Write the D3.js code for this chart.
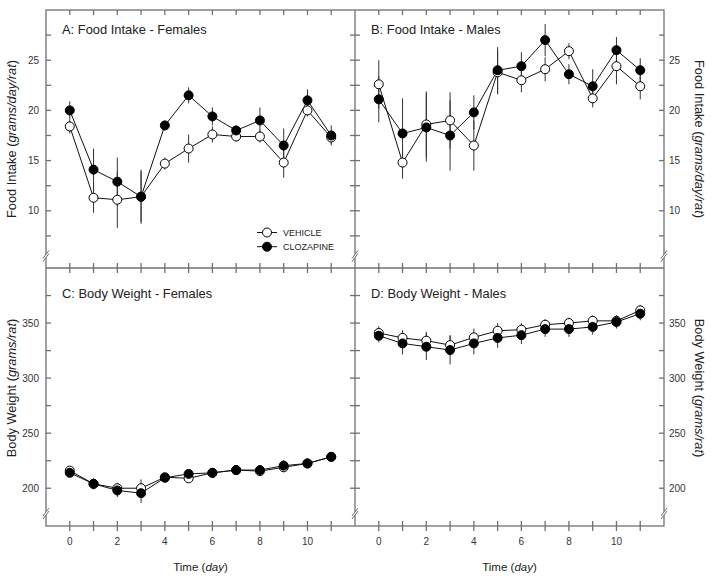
<!DOCTYPE html>
<html>
<head>
<meta charset="utf-8">
<script src="https://cdn.jsdelivr.net/npm/d3@7"></script>
<style>
  html, body { margin: 0; padding: 0; background: #fff; }
  svg { display: block; font-family: "Liberation Sans", Arial, sans-serif; }
</style>
</head>
<body>
<svg id="chart" width="712" height="581"></svg>
<script>
// ---------- DATA ----------
const days = [0, 1, 2, 3, 4, 5, 6, 7, 8, 9, 10, 11];
const xTickLabels = [0, 2, 4, 6, 8, 10];

const foodTicks = [10, 15, 20, 25];
const foodMinorTicks = [7.5, 12.5, 17.5, 22.5, 27.5];
const weightTicks = [200, 250, 300, 350];
const weightMinorTicks = [225, 275, 325, 375];

// A: Food Intake - Females
const foodFemVehicle     = [18.4, 11.3, 11.1, 11.4, 14.7, 16.2, 17.6, 17.4, 17.4, 14.8, 20.0, 17.3];
const foodFemVehicleErr  = [0.7, 1.5, 2.8, 2.7, 0.6, 1.4, 0.8, 0.5, 0.6, 1.5, 0.6, 0.6];
const foodFemClozapine   = [20.0, 14.1, 12.9, 11.4, 18.5, 21.5, 19.4, 18.0, 19.0, 16.5, 21.0, 17.5];
const foodFemClozErr     = [0.9, 2.1, 2.4, 2.5, 0.5, 0.8, 0.9, 0.5, 1.3, 1.7, 1.1, 1.0];

// B: Food Intake - Males
const foodMaleVehicle    = [22.6, 14.8, 18.6, 19.0, 16.5, 23.8, 23.0, 24.1, 25.9, 21.2, 24.4, 22.4];
const foodMaleVehicleErr = [2.4, 1.6, 3.3, 2.8, 2.5, 2.2, 1.2, 1.2, 0.8, 0.9, 1.8, 1.3];
const foodMaleClozapine  = [21.1, 17.7, 18.3, 17.5, 19.8, 24.0, 24.4, 27.0, 23.6, 22.4, 26.0, 24.0];
const foodMaleClozErr    = [2.3, 3.5, 3.4, 3.5, 1.7, 2.3, 1.4, 1.6, 1.0, 1.7, 1.3, 1.2];

// C: Body Weight - Females
const bwFemVehicle       = [216, 204, 200, 200, 210, 209, 214, 216.5, 215.5, 219, 222.5, 228.5];
const bwFemVehicleErr    = [2, 4, 5, 8, 3, 3, 3, 3, 3, 4, 3, 3];
const bwFemClozapine     = [214, 204, 198, 195.5, 209.5, 213, 214, 216.5, 216.5, 220.5, 222.5, 228.5];
const bwFemClozErr       = [2, 5, 6, 9, 3, 3, 3, 3, 3, 5, 3, 4];

// D: Body Weight - Males
const bwMaleVehicle      = [341, 336.5, 334, 330, 337, 343, 344, 348.5, 350, 352, 352, 361.5];
const bwMaleVehicleErr   = [6, 7, 8, 9, 8, 7, 6, 5, 5, 5, 5, 5];
const bwMaleClozapine    = [338.5, 331.5, 328.5, 325.5, 331.5, 336.5, 339, 344.5, 344.5, 346.5, 351, 358.5];
const bwMaleClozErr      = [6, 10, 12, 13, 10, 9, 8, 7, 7, 7, 6, 6];

const seriesNames = ["VEHICLE", "CLOZAPINE"];

// ---------- LAYOUT ----------
const svg = d3.select("#chart");
const L = 46, M = 355, R = 664, T = 10, MY = 268, B = 526;
const axisColor = "#707070";
const textColor = "#222";

const xLeft = d3.scaleLinear().domain([-1, 12]).range([L, M]);
const xRight = d3.scaleLinear().domain([-1, 12]).range([M, R]);
const yFood = d3.scaleLinear().domain([4.3, 30]).range([MY, T]);
const yWeight = d3.scaleLinear().domain([165.7, 400]).range([B, MY]);

const panels = [
  { title: "A: Food Intake - Females", x: xLeft, y: yFood, v: foodFemVehicle, ve: foodFemVehicleErr, c: foodFemClozapine, ce: foodFemClozErr },
  { title: "B: Food Intake - Males", x: xRight, y: yFood, v: foodMaleVehicle, ve: foodMaleVehicleErr, c: foodMaleClozapine, ce: foodMaleClozErr },
  { title: "C: Body Weight - Females", x: xLeft, y: yWeight, v: bwFemVehicle, ve: bwFemVehicleErr, c: bwFemClozapine, ce: bwFemClozErr },
  { title: "D: Body Weight - Males", x: xRight, y: yWeight, v: bwMaleVehicle, ve: bwMaleVehicleErr, c: bwMaleClozapine, ce: bwMaleClozErr }
];

const frame = svg.append("g").attr("stroke", axisColor).attr("stroke-width", 1.3).attr("fill", "none");

// Outer frame and dividers
frame.append("rect").attr("x", L).attr("y", T).attr("width", R - L).attr("height", B - T);
frame.append("line").attr("x1", L).attr("x2", R).attr("y1", MY).attr("y2", MY);
frame.append("line").attr("x1", M).attr("x2", M).attr("y1", T).attr("y2", B);

// X ticks
const tk = 5;
[xLeft, xRight].forEach(xs => {
  days.forEach(d => {
    frame.append("line").attr("x1", xs(d)).attr("x2", xs(d)).attr("y1", T).attr("y2", T + tk);
    frame.append("line").attr("x1", xs(d)).attr("x2", xs(d)).attr("y1", MY - tk).attr("y2", MY + tk);
    frame.append("line").attr("x1", xs(d)).attr("x2", xs(d)).attr("y1", B - tk).attr("y2", B + tk);
  });
  svg.append("g").selectAll("text").data(xTickLabels).join("text")
    .attr("x", d => xs(d)).attr("y", 545)
    .attr("text-anchor", "middle").attr("font-size", 10).attr("fill", "#333")
    .text(d => d);
  const t = svg.append("text").attr("x", (xs(-1) + xs(12)) / 2).attr("y", 571)
    .attr("text-anchor", "middle").attr("font-size", 11.5).attr("fill", textColor);
  t.append("tspan").text("Time (");
  t.append("tspan").attr("font-style", "italic").text("day");
  t.append("tspan").text(")");
});

// Y ticks
function yTicks(ys, majors, minors) {
  majors.concat(minors).forEach(v => {
    frame.append("line").attr("x1", L).attr("x2", L + tk).attr("y1", ys(v)).attr("y2", ys(v));
    frame.append("line").attr("x1", M - tk).attr("x2", M + tk).attr("y1", ys(v)).attr("y2", ys(v));
    frame.append("line").attr("x1", R - tk).attr("x2", R).attr("y1", ys(v)).attr("y2", ys(v));
  });
  svg.append("g").selectAll("text").data(majors).join("text")
    .attr("x", L - 7).attr("y", d => ys(d)).attr("dy", "0.35em")
    .attr("text-anchor", "end").attr("font-size", 10).attr("fill", "#333").text(d => d);
  svg.append("g").selectAll("text").data(majors).join("text")
    .attr("x", R + 5).attr("y", d => ys(d)).attr("dy", "0.35em")
    .attr("text-anchor", "start").attr("font-size", 10).attr("fill", "#333").text(d => d);
}
yTicks(yFood, foodTicks, foodMinorTicks);
yTicks(yWeight, weightTicks, weightMinorTicks);

// Axis breaks
function brk(x, y) {
  const g = svg.append("g");
  g.append("polygon")
    .attr("points", `${x - 3},${y + 5.5} ${x + 3},${y - 2.5} ${x + 3},${y - 5.5} ${x - 3},${y + 2.5}`)
    .attr("fill", "#fff");
  g.append("line").attr("x1", x - 3).attr("y1", y + 5.5).attr("x2", x + 3).attr("y2", y - 2.5)
    .attr("stroke", axisColor).attr("stroke-width", 1);
  g.append("line").attr("x1", x - 3).attr("y1", y + 2.5).attr("x2", x + 3).attr("y2", y - 5.5)
    .attr("stroke", axisColor).attr("stroke-width", 1);
}
[L, M, R].forEach(x => { brk(x, yFood(5.5)); brk(x, yWeight(177)); });

// Y axis titles
function yTitle(x, y, rot, main, unit) {
  const t = svg.append("text").attr("transform", `translate(${x},${y}) rotate(${rot})`)
    .attr("text-anchor", "middle").attr("font-size", 12.8).attr("fill", textColor);
  t.append("tspan").text(main + " (");
  t.append("tspan").attr("font-style", "italic").text(unit);
  t.append("tspan").text(")");
}
yTitle(16, (T + MY) / 2, -90, "Food Intake", "grams/day/rat");
yTitle(16, 388, -90, "Body Weight", "grams/rat");
yTitle(695, (T + MY) / 2, 90, "Food Intake", "grams/day/rat");
yTitle(695, 388, 90, "Body Weight", "grams/rat");

// Panels
const r = 4.5;
panels.forEach(p => {
  const g = svg.append("g");
  g.append("text").attr("x", p.x(-1) + 16).attr("y", p.y === yFood ? 34 : 298)
    .attr("font-size", 12.9).attr("fill", textColor).text(p.title);
  const line = d3.line().x((d, i) => p.x(days[i])).y(d => p.y(d));
  [[p.v, p.ve, "#fff"], [p.c, p.ce, "#000"]].forEach(([vals, errs, fill]) => {
    g.append("g").selectAll("line").data(vals).join("line")
      .attr("x1", (d, i) => p.x(days[i])).attr("x2", (d, i) => p.x(days[i]))
      .attr("y1", (d, i) => p.y(d - errs[i])).attr("y2", (d, i) => p.y(d + errs[i]))
      .attr("stroke", "#333").attr("stroke-width", 1);
  });
  [[p.v, "#fff"], [p.c, "#000"]].forEach(([vals, fill]) => {
    g.append("path").datum(vals).attr("d", line).attr("fill", "none")
      .attr("stroke", "#111").attr("stroke-width", 1);
  });
  [[p.v, "#fff"], [p.c, "#000"]].forEach(([vals, fill]) => {
    g.append("g").selectAll("circle").data(vals).join("circle")
      .attr("cx", (d, i) => p.x(days[i])).attr("cy", d => p.y(d)).attr("r", r)
      .attr("fill", fill).attr("stroke", "#000").attr("stroke-width", 1);
  });
});

// Legend
const lg = svg.append("g");
seriesNames.forEach((name, i) => {
  const y = 232.5 + i * 14.2;
  lg.append("line").attr("x1", 257).attr("x2", 277).attr("y1", y).attr("y2", y)
    .attr("stroke", "#111").attr("stroke-width", 1);
  lg.append("circle").attr("cx", 267).attr("cy", y).attr("r", r)
    .attr("fill", i === 0 ? "#fff" : "#000").attr("stroke", "#000").attr("stroke-width", 1);
  lg.append("text").attr("x", 283).attr("y", y).attr("dy", "0.35em")
    .attr("font-size", 9).attr("fill", textColor).text(name);
});
</script>
</body>
</html>
